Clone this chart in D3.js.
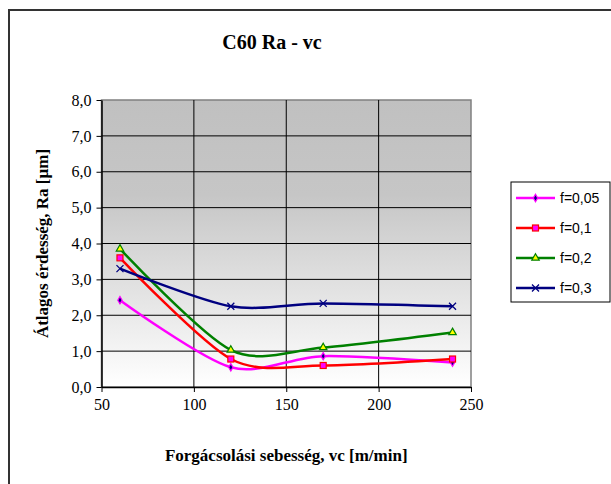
<!DOCTYPE html>
<html>
<head>
<meta charset="utf-8">
<script src="https://cdn.jsdelivr.net/npm/d3@7"></script>
<style>
  body { margin: 0; background: #fff; }
  svg { display: block; }
  .serif { font-family: 'Liberation Serif', 'Times New Roman', 'DejaVu Serif', serif; }
  .sans { font-family: 'Liberation Sans', Arial, sans-serif; }
</style>
</head>
<body>
<svg width="611" height="484"></svg>
<script>
// chart data
const speeds = [60, 120, 170, 240];
const f005 = [2.42, 0.55, 0.86, 0.68];
const f01 = [3.6, 0.78, 0.6, 0.78];
const f02 = [3.85, 1.03, 1.1, 1.52];
const f03 = [3.3, 2.25, 2.33, 2.25];
const seriesNames = ['f=0,05', 'f=0,1', 'f=0,2', 'f=0,3'];
const xTicks = [50, 100, 150, 200, 250];
const yTicks = [0, 1, 2, 3, 4, 5, 6, 7, 8];

const series = [
  { name: seriesNames[0], values: f005, color: '#ff00ff', marker: 'diamond' },
  { name: seriesNames[1], values: f01, color: '#ff0000', marker: 'square' },
  { name: seriesNames[2], values: f02, color: '#008000', marker: 'triangle' },
  { name: seriesNames[3], values: f03, color: '#000080', marker: 'cross' },
];

const svg = d3.select('svg');
const plot = { left: 101.5, right: 471, top: 100, bottom: 387 };

// outer chart border
svg.append('rect')
  .attr('x', 9).attr('y', 10)
  .attr('width', 640).attr('height', 520)
  .attr('fill', '#fff')
  .attr('stroke', '#333').attr('stroke-width', 2);

const x = d3.scaleLinear().domain([50, 250]).range([plot.left, plot.right]);
const y = d3.scaleLinear().domain([0, 8]).range([plot.bottom, plot.top]);

// plot area background gradient
const defs = svg.append('defs');
const grad = defs.append('linearGradient')
  .attr('id', 'bg').attr('x1', 0).attr('y1', 0).attr('x2', 0).attr('y2', 1);
grad.append('stop').attr('offset', '0%').attr('stop-color', '#c0c0c0');
grad.append('stop').attr('offset', '33%').attr('stop-color', '#c6c6c6');
grad.append('stop').attr('offset', '100%').attr('stop-color', '#ffffff');

svg.append('rect')
  .attr('x', plot.left).attr('y', plot.top)
  .attr('width', plot.right - plot.left).attr('height', plot.bottom - plot.top)
  .attr('fill', 'url(#bg)')
  .attr('stroke', '#808080').attr('stroke-width', 1.5);

// grid lines
const grid = svg.append('g');
grid.selectAll('.hg')
  .data(yTicks.slice(1, -1))
  .join('line')
  .attr('x1', plot.left).attr('x2', plot.right)
  .attr('y1', d => y(d)).attr('y2', d => y(d))
  .attr('stroke', '#000').attr('stroke-width', 1);
grid.selectAll('.vg')
  .data(xTicks.slice(1, -1))
  .join('line')
  .attr('x1', d => x(d)).attr('x2', d => x(d))
  .attr('y1', plot.top).attr('y2', plot.bottom)
  .attr('stroke', '#000').attr('stroke-width', 1);

// axes
const fmt = d => d.toFixed(1).replace('.', ',');
const yAxis = svg.append('g')
  .attr('transform', `translate(${plot.left},0)`)
  .call(d3.axisLeft(y).tickValues(yTicks).tickFormat(fmt).tickSize(5).tickSizeOuter(0).tickPadding(5));
const xAxis = svg.append('g')
  .attr('transform', `translate(0,${plot.bottom})`)
  .call(d3.axisBottom(x).tickValues(xTicks).tickSize(5).tickSizeOuter(0).tickPadding(7));

[yAxis, xAxis].forEach(a => {
  a.attr('font-family', null).attr('font-size', null);
  a.select('.domain').attr('stroke', '#000').attr('stroke-width', 1.5);
  a.selectAll('.tick line').attr('stroke', '#000');
  a.selectAll('text')
    .attr('class', 'serif')
    .style('font-size', '16px').attr('fill', '#000');
});

// lines
const line = d3.line()
  .x((d, i) => x(speeds[i]))
  .y(d => y(d))
  .curve(d3.curveCardinal.tension(0.15));

series.forEach(s => {
  svg.append('path')
    .datum(s.values)
    .attr('fill', 'none')
    .attr('stroke', s.color)
    .attr('stroke-width', 2.5)
    .attr('d', line);
});

function drawMarker(g, type, cx, cy) {
  if (type === 'diamond') {
    g.append('path')
      .attr('d', d3.symbol(d3.symbolDiamond, 16)())
      .attr('transform', `translate(${cx},${cy})`)
      .attr('fill', '#000080').attr('stroke', '#ff00ff').attr('stroke-width', 1.2);
  } else if (type === 'square') {
    g.append('rect')
      .attr('x', cx - 3).attr('y', cy - 3).attr('width', 6).attr('height', 6)
      .attr('fill', '#ff00ff').attr('stroke', '#ff0000').attr('stroke-width', 1.2);
  } else if (type === 'triangle') {
    g.append('path')
      .attr('d', d3.symbol(d3.symbolTriangle, 24)())
      .attr('transform', `translate(${cx},${cy})`)
      .attr('fill', '#ffff00').attr('stroke', '#008000').attr('stroke-width', 1.2);
  } else {
    g.append('path')
      .attr('d', `M${cx - 3.5},${cy - 3.5}L${cx + 3.5},${cy + 3.5}M${cx - 3.5},${cy + 3.5}L${cx + 3.5},${cy - 3.5}`)
      .attr('stroke', '#000080').attr('stroke-width', 1.3);
  }
}

series.forEach(s => {
  const g = svg.append('g');
  s.values.forEach((v, i) => drawMarker(g, s.marker, x(speeds[i]), y(v)));
});

// title and axis titles
svg.append('text')
  .attr('class', 'serif')
  .attr('x', 272).attr('y', 49)
  .attr('text-anchor', 'middle')
  .style('font-weight', 'bold').style('font-size', '20px')
  .text('C60 Ra - vc');

svg.append('text')
  .attr('class', 'serif')
  .attr('x', (plot.left + plot.right) / 2).attr('y', 461)
  .attr('text-anchor', 'middle')
  .style('font-weight', 'bold').style('font-size', '17px')
  .text('Forgácsolási sebesség, vc [m/min]');

svg.append('text')
  .attr('class', 'serif')
  .attr('transform', `translate(48,${(plot.top + plot.bottom) / 2}) rotate(-90)`)
  .attr('text-anchor', 'middle')
  .style('font-weight', 'bold').style('font-size', '17px')
  .text('Átlagos érdesség, Ra [µm]');

// legend
const legend = svg.append('g');
legend.append('rect')
  .attr('x', 511).attr('y', 182)
  .attr('width', 99).attr('height', 120)
  .attr('fill', '#fff').attr('stroke', '#000').attr('stroke-width', 1);

series.forEach((s, i) => {
  const ly = 198 + i * 30;
  legend.append('line')
    .attr('x1', 516).attr('x2', 555)
    .attr('y1', ly).attr('y2', ly)
    .attr('stroke', s.color).attr('stroke-width', 2.5);
  drawMarker(legend, s.marker, 535.5, ly);
  legend.append('text')
    .attr('class', 'sans')
    .attr('x', 560).attr('y', ly + 5)
    .style('font-size', '14px')
    .text(s.name);
});
</script>
</body>
</html>
